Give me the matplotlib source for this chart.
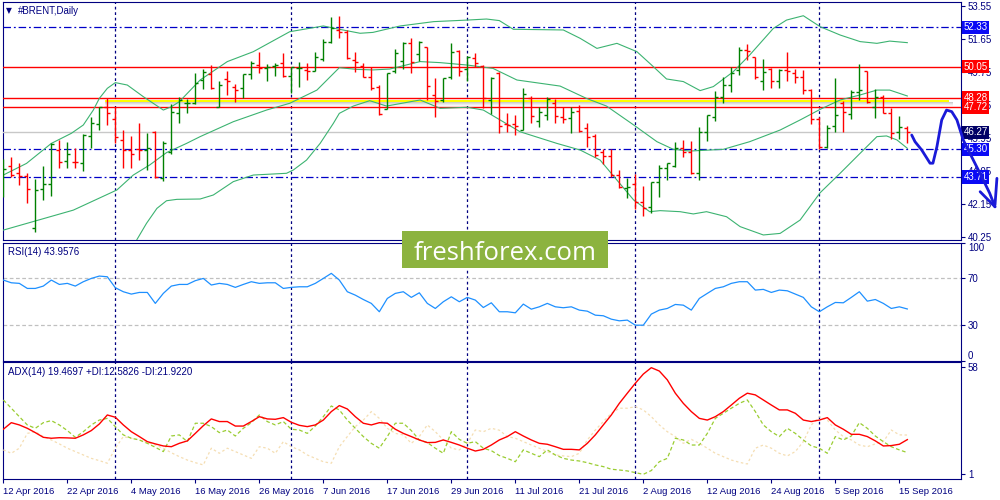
import numpy as np
import matplotlib
matplotlib.use('Agg')
import matplotlib.pyplot as plt
import matplotlib.transforms as mtransforms
from matplotlib.patches import Rectangle

plt.rcParams['font.family'] = ['Liberation Sans', 'DejaVu Sans']

# ---------------- data ----------------
opens = [43.15, 44.36, 43.96, 43.76, 40.79, 42.99, 43.30, 45.26, 44.63, 44.59,
         44.49, 46.08, 46.76, 47.75, 47.04, 45.84, 45.26, 45.32, 45.26, 46.28,
         43.63, 45.16, 47.41, 47.95, 47.99, 49.29, 49.64, 47.75, 49.33, 48.91,
         48.81, 49.64, 50.15, 50.00, 50.10, 50.25, 49.52, 49.96, 49.87, 49.83,
         50.48, 51.50, 52.17, 52.03, 50.44, 50.10, 49.44, 48.87, 47.60, 49.81,
         50.38, 51.44, 50.77, 51.17, 48.43, 48.14, 49.48, 50.96, 49.90, 50.54,
         50.12, 48.14, 49.71, 46.76, 46.76, 46.41, 48.27, 46.93, 47.27, 47.95,
         47.18, 47.08, 47.50, 46.55, 46.08, 45.16, 44.91, 43.82, 43.05, 43.30,
         42.29, 41.99, 43.44, 44.20, 44.36, 45.36, 45.13, 43.92, 46.28, 47.18,
         48.33, 49.00, 49.87, 51.02, 50.59, 49.25, 49.90, 49.23, 49.87, 49.71,
         49.44, 48.71, 47.03, 45.45, 46.64, 47.94, 47.31, 48.62, 49.81, 47.75,
         48.33, 47.37, 46.28, 46.55]
highs = [44.72, 44.88, 44.49, 43.92, 43.57, 44.34, 45.64, 45.84, 45.74, 45.40,
         46.16, 47.18, 47.75, 48.23, 47.75, 46.41, 46.07, 46.80, 46.22, 46.35,
         45.80, 47.89, 48.33, 48.18, 49.67, 49.90, 50.15, 49.23, 49.81, 49.06,
         49.64, 50.38, 50.88, 50.19, 50.29, 50.86, 50.06, 50.35, 50.25, 50.92,
         51.63, 52.90, 52.97, 52.17, 50.92, 50.29, 50.06, 49.00, 49.71, 51.06,
         51.50, 51.69, 51.54, 51.21, 49.39, 49.39, 51.40, 51.02, 50.67, 50.86,
         50.15, 49.44, 49.77, 47.41, 47.27, 48.81, 48.37, 47.72, 48.29, 48.18,
         47.75, 47.72, 47.85, 46.80, 46.16, 45.30, 45.30, 44.11, 43.63, 43.88,
         43.19, 43.44, 44.40, 44.53, 45.74, 45.84, 45.78, 46.60, 47.27, 48.66,
         49.44, 50.06, 51.17, 51.36, 50.63, 50.48, 50.00, 49.90, 50.88, 49.90,
         49.87, 48.75, 47.18, 46.70, 49.42, 48.08, 48.71, 50.21, 49.83, 48.75,
         48.43, 47.70, 47.22, 46.64]
lows = [42.53, 43.72, 43.25, 42.19, 40.52, 42.38, 42.61, 44.22, 44.20, 44.20,
        44.07, 45.36, 46.41, 46.70, 45.68, 44.20, 44.20, 44.68, 44.11, 43.63,
        43.50, 45.01, 46.83, 47.37, 47.91, 48.75, 48.75, 47.72, 48.43, 48.04,
        48.23, 49.33, 49.71, 49.25, 49.52, 49.48, 48.56, 48.87, 49.29, 49.83,
        50.38, 51.44, 51.69, 50.48, 49.77, 49.44, 48.71, 47.27, 47.60, 49.71,
        49.90, 49.67, 50.38, 48.14, 47.18, 48.04, 49.33, 49.52, 49.23, 50.02,
        47.66, 47.31, 46.26, 46.32, 46.12, 46.41, 46.83, 46.60, 46.99, 46.80,
        46.83, 46.22, 46.32, 45.45, 44.88, 44.43, 43.72, 43.09, 42.48, 41.84,
        41.48, 41.61, 42.57, 43.53, 44.30, 44.84, 43.88, 43.53, 45.80, 46.95,
        47.98, 48.62, 49.58, 50.44, 49.33, 48.71, 48.85, 48.85, 49.23, 49.10,
        48.46, 46.74, 45.30, 45.40, 46.32, 46.32, 47.03, 48.14, 47.95, 47.08,
        47.37, 45.87, 45.87, 45.68]
closes = [44.15, 43.82, 43.76, 43.02, 42.96, 43.30, 45.61, 44.55, 45.01, 44.55,
          46.12, 46.80, 47.71, 47.37, 45.99, 45.26, 45.03, 45.26, 45.40, 43.69,
          45.68, 47.43, 48.14, 47.99, 49.14, 49.77, 48.81, 49.00, 49.25, 48.71,
          49.64, 50.25, 50.00, 50.06, 50.15, 49.52, 50.06, 50.00, 49.81, 50.63,
          51.50, 52.26, 52.03, 50.54, 50.35, 49.44, 48.85, 47.31, 49.71, 50.82,
          51.40, 50.35, 51.50, 48.94, 48.10, 49.39, 50.92, 49.81, 50.63, 50.29,
          48.27, 49.39, 46.66, 46.70, 46.66, 48.46, 47.24, 47.43, 48.18, 47.22,
          47.04, 47.47, 46.35, 46.03, 44.97, 44.91, 43.82, 43.15, 43.15, 42.25,
          41.90, 43.44, 44.20, 44.49, 45.36, 45.16, 43.92, 46.28, 47.27, 48.33,
          49.00, 49.67, 51.02, 50.96, 49.44, 49.77, 49.23, 49.87, 49.81, 49.48,
          48.71, 47.03, 45.45, 46.55, 47.27, 47.47, 48.62, 48.71, 48.04, 48.33,
          47.37, 46.22, 46.60, 46.28]

bb_up_x = [0, 2.9, 6, 8.5, 10, 11.25, 12, 13, 14, 15.5,
           17.5, 20, 21, 22, 24.6, 28, 31.25, 35.8, 40, 42,
           44.6, 46.2, 49.6, 53.8, 58, 60.4, 62, 63.75, 70, 72.1,
           74.2, 76.7, 79.2, 81.25, 82.9, 85, 87.1, 88.75, 91.25, 93.3,
           96.25, 97.9, 100, 102.1, 104.6, 107.1, 109.2, 110.8, 113]
bb_up = [43.82, 44.49, 45.64, 46.22, 46.70, 47.56, 48.23, 48.81, 49.14, 49.00,
         48.33, 47.56, 47.75, 48.04, 49.29, 50.35, 50.92, 52.07, 52.40, 52.21,
         51.98, 52.03, 52.40, 52.65, 52.74, 52.80, 52.71, 52.21, 52.17, 51.69,
         51.11, 51.40, 50.92, 50.06, 49.35, 49.20, 48.68, 48.91, 49.77, 50.73,
         52.26, 52.74, 52.99, 52.36, 51.88, 51.50, 51.40, 51.53, 51.44]
bb_mid_x = [0, 8.75, 14.2, 16.25, 18.3, 20.4, 22.9, 24.6, 28.75, 32.9,
            35.8, 39.2, 42, 44.2, 46.2, 48.3, 52.1, 54.6, 58, 61.2,
            64.2, 69.6, 72.9, 75.4, 78.8, 81.7, 83.75, 85.8, 90, 93.3,
            97.1, 99.6, 102.1, 104.6, 107.1, 109.2, 110.8, 113]
bb_mid = [40.65, 41.80, 42.96, 43.82, 44.40, 45.11, 45.64, 46.03, 46.89, 47.56,
          47.95, 48.71, 50.00, 49.90, 49.87, 49.92, 50.35, 50.29, 50.15, 49.96,
          49.29, 48.94, 48.23, 47.79, 46.70, 45.74, 45.30, 45.20, 45.30, 45.74,
          46.41, 46.99, 47.60, 48.14, 48.43, 48.71, 48.71, 48.37]
bb_low_x = [16.2, 16.67, 17.9, 19.2, 20.4, 21.7, 24.6, 26.25, 28.75, 31.25,
            35.4, 36.25, 37.9, 39.6, 41.25, 42, 43.75, 45.8, 47.9, 52.1,
            54.6, 58, 60, 64.6, 69.2, 72.1, 74.6, 76.7, 78.8, 80.8,
            82.1, 84.6, 86.25, 87.9, 90.4, 92.1, 95, 97.1, 99.6, 102.1,
            104.6, 107.1, 109.2, 110.4, 111.7, 113]
bb_low = [39.5, 40.08, 41.04, 41.90, 42.34, 42.42, 42.44, 42.67, 43.44, 43.82,
          43.92, 44.11, 44.68, 45.64, 46.79, 47.37, 47.79, 48.10, 47.79, 48.14,
          47.66, 47.72, 47.56, 46.31, 45.64, 45.26, 44.68, 43.53, 42.38, 41.71,
          41.77, 41.71, 41.58, 41.71, 41.42, 40.85, 40.37, 40.46, 41.23, 42.80,
          43.92, 45.07, 46.03, 46.07, 45.84, 45.36]

rsi = [68.5, 66.2, 65.7, 61.4, 61.4, 63.4, 68.5, 64.8, 65.7, 63.4,
       67.1, 69.9, 71.9, 71.3, 62.0, 58.6, 56.6, 58.0, 58.0, 48.7,
       57.2, 63.4, 64.8, 64.8, 68.0, 69.9, 64.3, 65.7, 64.8, 62.3,
       64.8, 67.1, 65.7, 66.2, 66.2, 61.4, 62.3, 62.8, 62.8, 65.7,
       69.9, 74.2, 68.5, 58.6, 55.7, 52.0, 48.7, 41.6, 52.9, 57.2,
       58.6, 53.8, 57.7, 48.7, 44.4, 50.1, 54.3, 50.1, 53.8, 51.5,
       45.2, 49.2, 41.6, 41.6, 40.7, 48.1, 43.8, 45.8, 48.7, 45.8,
       45.0, 45.8, 43.0, 42.1, 38.7, 38.2, 35.3, 33.9, 34.5, 30.2,
       30.2, 39.6, 43.0, 44.4, 47.8, 47.2, 43.0, 52.9, 57.2, 61.4,
       62.8, 65.7, 67.1, 67.1, 60.0, 60.6, 58.0, 60.0, 59.4, 56.6,
       53.8, 45.8, 41.6, 45.8, 49.5, 49.2, 53.8, 58.6, 50.6, 52.0,
       48.7, 44.4, 45.8, 43.96]
adx = [25.0, 28.5, 27.3, 25.5, 23.2, 20.7, 20.2, 20.5, 20.4, 20.2,
       22.0, 24.3, 27.8, 32.6, 31.4, 27.3, 23.7, 21.1, 18.4, 17.2,
       16.1, 15.7, 17.5, 18.8, 22.8, 26.9, 30.5, 29.1, 29.1, 26.7,
       26.7, 29.1, 31.7, 30.5, 30.3, 31.2, 28.7, 27.1, 26.4, 27.3,
       29.9, 34.4, 37.6, 35.8, 31.7, 28.2, 27.3, 28.5, 28.2, 25.0,
       22.8, 21.1, 19.3, 17.9, 18.0, 19.3, 18.0, 16.6, 14.9, 13.4,
       14.3, 16.6, 19.3, 21.1, 23.7, 21.4, 19.3, 17.5, 17.0, 15.7,
       14.3, 14.3, 14.0, 17.5, 22.0, 27.3, 32.6, 38.8, 44.2, 49.5,
       54.4, 57.8, 56.0, 51.3, 44.2, 38.8, 34.4, 30.8, 29.9, 31.7,
       34.4, 37.9, 41.5, 44.2, 43.3, 40.6, 37.9, 35.3, 35.3, 33.5,
       29.9, 29.1, 29.9, 31.2, 27.3, 25.0, 22.3, 22.3, 21.1, 18.8,
       16.1, 16.3, 17.0, 19.47]
plus_di = [40.6, 36.2, 31.7, 27.3, 25.5, 28.5, 29.6, 27.3, 24.3, 20.7,
           23.7, 27.3, 29.9, 30.8, 26.4, 22.0, 20.2, 19.3, 17.5, 15.4,
           13.1, 21.4, 22.0, 18.4, 28.2, 28.2, 26.4, 23.2, 24.6, 21.4,
           25.5, 28.5, 32.6, 29.1, 27.3, 29.1, 25.0, 24.6, 22.8, 26.7,
           31.7, 37.4, 35.3, 29.9, 25.5, 21.1, 17.5, 14.9, 21.1, 28.2,
           28.2, 24.3, 19.3, 17.9, 14.9, 12.2, 23.7, 19.6, 17.5, 18.4,
           14.9, 13.6, 11.0, 9.5, 7.7, 14.0, 12.2, 10.4, 14.0, 11.3,
           9.5, 8.6, 8.1, 7.2, 6.0, 5.1, 3.7, 3.3, 2.8, 1.9,
           1.0, 3.0, 7.7, 9.5, 20.2, 19.3, 16.6, 16.6, 22.8, 30.8,
           33.5, 36.2, 38.8, 40.6, 34.4, 27.3, 23.7, 21.1, 25.5, 22.8,
           19.3, 16.1, 14.9, 12.2, 21.1, 19.3, 21.4, 28.5, 25.5, 21.4,
           18.4, 15.7, 14.0, 12.58]
minus_di = [14.0, 12.2, 14.9, 22.8, 23.7, 21.1, 19.3, 17.2, 14.9, 13.1,
            11.3, 9.5, 8.3, 6.9, 14.9, 21.1, 20.2, 19.3, 17.9, 16.6,
            14.9, 12.5, 10.4, 8.6, 7.2, 6.0, 14.9, 12.2, 14.9, 13.1,
            11.3, 9.5, 15.7, 14.9, 12.2, 18.4, 15.7, 14.0, 11.3, 9.5,
            7.7, 6.9, 15.7, 21.1, 26.4, 29.9, 34.4, 30.8, 25.5, 22.8,
            22.0, 17.5, 21.1, 27.3, 23.7, 19.3, 14.9, 14.0, 17.5, 24.6,
            23.7, 25.5, 24.5, 21.1, 20.2, 18.4, 16.6, 14.9, 13.1, 11.3,
            10.8, 10.4, 12.2, 19.3, 24.6, 29.1, 33.5, 36.2, 36.2, 37.0,
            35.3, 31.7, 27.3, 23.7, 21.1, 17.5, 19.6, 17.5, 14.9, 12.2,
            10.4, 8.6, 7.4, 6.5, 14.9, 16.6, 14.9, 12.2, 10.8, 13.1,
            18.4, 27.3, 31.7, 29.9, 24.6, 21.1, 19.3, 16.6, 15.7, 17.2,
            18.4, 24.6, 22.0, 21.92]

date_tick_bars = [0, 8, 16, 24, 32, 40, 48, 56, 64, 72, 80, 88, 96, 104, 112]
date_labels = ['12 Apr 2016', '22 Apr 2016', '4 May 2016', '16 May 2016', '26 May 2016',
               '7 Jun 2016', '17 Jun 2016', '29 Jun 2016', '11 Jul 2016', '21 Jul 2016',
               '2 Aug 2016', '12 Aug 2016', '24 Aug 2016', '5 Sep 2016', '15 Sep 2016']
grid_bars = [14, 36, 58, 79, 102]
price_ticks = [53.55, 51.65, 49.75, 47.85, 45.95, 44.05, 42.15, 40.25]
price_tick_labels = ['53.55', '51.65', '49.75', '47.85', '45.95', '44.05', '42.15', '40.25']

level_values = [52.33, 50.05, 48.28, 47.72, 46.27, 45.30, 43.71]
level_labels = ['52.33', '50.05', '48.28', '47.72', '46.27', '45.30', '43.71']
level_kind = ['dashdot', 'red', 'red', 'red', 'bid', 'dashdot', 'dashdot']
level_box = ['#0A0AF5', '#FF0000', '#FF0000', '#FF0000', '#000066', '#0A0AF5', '#0A0AF5']

zone_x = [12.7, 118.25]
zone_yellow = [48.00, 48.14]
zone_shadow = [47.78, 48.00]

rsi_levels = [70, 30]
rsi_ticks = [0, 30, 70, 100]
adx_ticks = [1, 58]

arrow_x = [113.55, 113.96, 114.8, 115.84, 116.2, 116.7, 117.3, 117.9, 118.55, 119.2,
           120.0, 121.25, 122.3, 123.3, 123.96]
arrow_y = [46.12, 45.74, 45.26, 44.50, 44.50, 45.45, 46.99, 47.56, 47.47, 46.99,
           45.83, 44.68, 43.72, 42.77, 41.99]
head1_x = [122.1, 123.96]
head1_y = [42.86, 41.99]
head2_x = [124.2, 123.96]
head2_y = [43.63, 42.09]

# ---------------- figure ----------------
NAVY = '#000080'
fig = plt.figure(figsize=(10, 5), dpi=100)
fig.patch.set_facecolor('white')

ax = fig.add_axes([0.003, 0.52, 0.958, 0.476])
ax_rsi = fig.add_axes([0.003, 0.2785, 0.958, 0.2365])
ax_adx = fig.add_axes([0.003, 0.042, 0.958, 0.2334])

XMIN, XMAX = -0.04, 119.71
for a in (ax, ax_rsi, ax_adx):
    a.set_facecolor('white')
    for s in a.spines.values():
        s.set_color(NAVY)
        s.set_linewidth(0.8)
    a.yaxis.tick_right()
    a.tick_params(axis='y', colors=NAVY, labelcolor=NAVY, length=3, width=0.8,
                  labelsize=7, pad=2)
    a.tick_params(axis='x', bottom=False, labelbottom=False)
    for g in grid_bars:
        a.axvline(g, color=NAVY, lw=0.9, ls=(0, (2.2, 2.2)), zorder=1)

# ---- main price panel ----
x = np.arange(len(closes))
o = np.array(opens); h = np.array(highs); l = np.array(lows); c = np.array(closes)
cols = np.where(c >= o, '#008000', '#FF0000')
ax.vlines(x, l, h, colors=cols, lw=1.0, zorder=5)
ax.hlines(o, x - 0.38, x, colors=cols, lw=1.0, zorder=5)
ax.hlines(c, x, x + 0.38, colors=cols, lw=1.0, zorder=5)

bb_col = '#3CB371'
ax.plot(bb_up_x, bb_up, color=bb_col, lw=0.8, zorder=4)
ax.plot(bb_mid_x, bb_mid, color=bb_col, lw=0.8, zorder=4)
ax.plot(bb_low_x, bb_low, color=bb_col, lw=0.8, zorder=4)

# zone
ax.fill_between(zone_x, zone_yellow[0], zone_yellow[1], color='#FFFF00', lw=0, zorder=2)
grad = np.linspace(0.0, 1.0, 20).reshape(-1, 1)
ax.imshow(grad, extent=[zone_x[0], zone_x[1] + 0.4, zone_shadow[0], zone_shadow[1]],
          cmap='Greys', vmin=-0.1, vmax=3.2, aspect='auto', origin='lower', zorder=2)

for v, kind in zip(level_values, level_kind):
    if kind == 'red':
        ax.axhline(v, color='#FF0000', lw=1.0, zorder=3)
    elif kind == 'bid':
        ax.axhline(v, color='#C8C8C8', lw=1.0, zorder=3)
    else:
        ax.axhline(v, color='#0000C8', lw=0.9, ls=(0, (6, 2.3, 1.5, 2.3)), zorder=3)

ax.set_xlim(XMIN, XMAX)
ax.set_ylim(40.08, 53.78)
ax.set_yticks(price_ticks)
ax.set_yticklabels(price_tick_labels)

trans = mtransforms.blended_transform_factory(ax.transAxes, ax.transData)
for v, lab, bc in zip(level_values, level_labels, level_box):
    ax.text(1.0025, v, lab, transform=trans, ha='left', va='center', fontsize=7,
            color='white', zorder=30, clip_on=False,
            bbox=dict(boxstyle='square,pad=0.17', fc=bc, ec='none'))

ax.plot(arrow_x, arrow_y, color='#1A1AD8', lw=2.0, clip_on=False, zorder=40,
        solid_capstyle='round', solid_joinstyle='round')
ax.plot(head1_x, head1_y, color='#1A1AD8', lw=2.0, clip_on=False, zorder=40,
        solid_capstyle='round')
ax.plot(head2_x, head2_y, color='#1A1AD8', lw=2.0, clip_on=False, zorder=40,
        solid_capstyle='round')

fig.text(0.006, 1 - 10.5 / 500, '\u25BC', fontsize=5.5, color=NAVY, va='center', ha='left',
         family=['DejaVu Sans'])
fig.text(0.018, 1 - 10.5 / 500, '#BRENT,Daily', fontsize=7, color=NAVY, va='center', ha='left')

# ---- RSI panel ----
ax_rsi.plot(x, rsi, color='#1E90FF', lw=0.9, zorder=4)
for lv in rsi_levels:
    ax_rsi.axhline(lv, color='#C0C0C0', lw=0.9, ls=(0, (3, 2)), zorder=2)
ax_rsi.set_xlim(XMIN, XMAX)
ax_rsi.set_ylim(0.4, 100.4)
ax_rsi.set_yticks(rsi_ticks)
ax_rsi.set_yticklabels([str(t) for t in rsi_ticks])
tl = ax_rsi.get_yticklabels()
tl[0].set_va('bottom')
tl[-1].set_va('top')
fig.text(0.008, 1 - 252 / 500, 'RSI(14) 43.9576', fontsize=7, color=NAVY, va='center', ha='left')

# ---- ADX panel ----
ax_adx.plot(x, minus_di, color='#F5DEB3', lw=0.9, ls=(0, (2, 2)), zorder=3)
ax_adx.plot(x, plus_di, color='#9ACD32', lw=0.9, ls=(0, (3, 2)), zorder=3)
ax_adx.plot(x, adx, color='#FF0000', lw=1.0, zorder=4)
ax_adx.set_xlim(XMIN, XMAX)
ax_adx.set_ylim(-1.5, 60.66)
ax_adx.set_yticks(adx_ticks)
ax_adx.set_yticklabels([str(t) for t in adx_ticks])
ax_adx.set_xticks(date_tick_bars)
ax_adx.set_xticklabels(date_labels, ha='left')
ax_adx.tick_params(axis='x', bottom=True, labelbottom=True, length=3, width=0.8,
                   colors=NAVY, labelcolor=NAVY, labelsize=6.8, pad=2.5)
fig.text(0.008, 1 - 372 / 500, 'ADX(14) 19.4697 +DI:12.5826 -DI:21.9220', fontsize=7,
         color=NAVY, va='center', ha='left')

# ---- watermark ----
fig.add_artist(Rectangle((0.4023, 1 - 268.3 / 500), 0.206, 37.3 / 500,
                         transform=fig.transFigure, fc='#8CB33F', ec='none', zorder=50))
fig.text(0.5053, 1 - 260 / 500, 'freshforex.com', fontsize=18.5, color='white',
         family=['Open Sans', 'DejaVu Sans'], ha='center', va='baseline', zorder=51)

fig.savefig('out.png', dpi=100, facecolor='white')
